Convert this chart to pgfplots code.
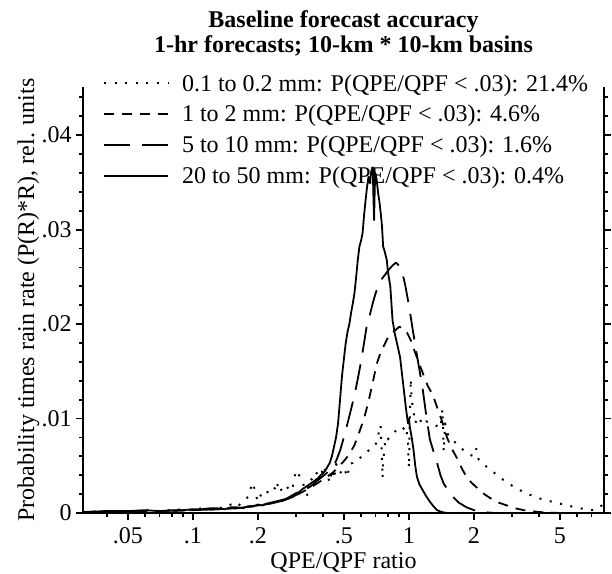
\documentclass[border=0pt]{standalone}
\usepackage{fontspec}
\setmainfont{Liberation Serif}
\usepackage{pgfplots}
\pgfplotsset{compat=1.18}
\usetikzlibrary{calc}

\begin{document}
\fontsize{12bp}{14.4bp}\selectfont
\begin{tikzpicture}
\begin{axis}[
  name=ax,
  scale only axis, width=260.5bp, height=213bp,
  xmode=log, xmin=0.031, xmax=8, ymin=0, ymax=0.0451,
  axis x line*=bottom, axis y line*=box,
  axis line style={-, line width=1bp},
  every tick/.style={black, line width=0.9bp},
  tick align=outside,
  major tick length=3.5bp, minor tick length=2bp,
  scaled y ticks=false,
  xtick={0.05,0.1,0.2,0.5,1,2,5},
  xticklabels={.05,.1,.2,.5,1,2,5},
  minor xtick={0.04,0.06,0.07,0.08,0.09,0.3,0.4,0.6,0.7,0.8,0.9,3,4,6,7},
  ytick={0,0.01,0.02,0.03,0.04},
  yticklabels={0,.01,.02,.03,.04},
  minor ytick={0.002,0.004,0.006,0.008,0.012,0.014,0.016,0.018,0.022,0.024,0.026,0.028,0.032,0.034,0.036,0.038,0.042,0.044},
  xticklabel style={anchor=north, inner sep=0pt, yshift=-3.5bp},
  yticklabel style={anchor=east, inner sep=0pt, xshift=-2bp},
  xlabel={QPE/QPF ratio},
  ylabel={Probability times rain rate (P(R)*R), rel. units},
  xlabel style={at={(axis description cs:0.5,-0.1291)}, anchor=base},
  ylabel style={at={(axis description cs:-0.094,0.5)}, anchor=base},
  clip mode=individual,
  legend style={at={(0.0384,1.0295)}, anchor=north west, draw=none, fill=none,
    inner sep=0pt, outer sep=0pt, row sep=5.3bp, column sep=6.5bp,
    nodes={inner sep=0pt}},
  legend cell align=left,
  legend image code/.code={\draw[#1] (0bp,0.6bp) -- (32bp,0.6bp);},
  every axis plot/.append style={black, line join=round},
]
% 0.1 to 0.2 mm
\addplot[line width=1bp, dash pattern=on 1bp off 4.3bp] coordinates {
(0.031,0.0001) (0.04,0.0002) (0.05,0.0001) (0.06,0.0003) (0.07,0.0002) (0.08,0.0003)
(0.09,0.0004) (0.1,0.0003) (0.11,0.0005) (0.12,0.0004) (0.13,0.0006) (0.14,0.0005)
(0.15,0.0009) (0.16,0.0006) (0.17,0.0012) (0.18,0.0017) (0.185,0.0026) (0.19,0.0032)
(0.195,0.0020) (0.2,0.0012) (0.21,0.0023) (0.22,0.0021) (0.23,0.0028) (0.24,0.0026)
(0.245,0.0033) (0.25,0.0022) (0.27,0.0030) (0.28,0.0023) (0.29,0.0028) (0.30,0.0045)
(0.31,0.0040) (0.32,0.0035) (0.33,0.0025) (0.34,0.0018) (0.35,0.0037) (0.36,0.0034)
(0.37,0.0040) (0.38,0.0045) (0.39,0.0035) (0.40,0.0050) (0.42,0.0040) (0.43,0.0032)
(0.44,0.0046) (0.45,0.0036) (0.46,0.0052) (0.48,0.0042) (0.50,0.0048) (0.52,0.0038)
(0.53,0.0052) (0.55,0.0053) (0.57,0.0057) (0.59,0.0058) (0.61,0.0060) (0.63,0.0064)
(0.65,0.0066) (0.67,0.0068) (0.69,0.0070) (0.71,0.0075) (0.73,0.0088) (0.74,0.0093)
(0.75,0.0060) (0.755,0.0037) (0.76,0.0055) (0.78,0.0080) (0.80,0.0078) (0.82,0.0083)
(0.85,0.0085) (0.88,0.0088) (0.91,0.0086) (0.94,0.0089) (0.97,0.0092) (0.99,0.0075)
(1.0,0.0048) (1.01,0.0100) (1.02,0.0142) (1.03,0.0120) (1.05,0.0108) (1.07,0.0095)
(1.10,0.0102) (1.13,0.0098) (1.16,0.0093) (1.20,0.0097) (1.25,0.0096) (1.30,0.0094)
(1.35,0.0092) (1.40,0.0090) (1.43,0.0110) (1.45,0.0065) (1.47,0.0095) (1.50,0.0085)
(1.55,0.0080) (1.60,0.0077) (1.70,0.0071) (1.80,0.0066) (1.90,0.0062) (2.0,0.0060)
(2.05,0.0068) (2.1,0.0057) (2.2,0.0052) (2.35,0.0047) (2.5,0.0042) (2.7,0.0036)
(2.9,0.0031) (3.1,0.0027) (3.4,0.0022) (3.75,0.0018) (4.2,0.0014) (4.8,0.0011)
(5.4,0.0008) (6.2,0.0005) (7.0,0.0003) (7.6,0.0005) (8,0.0011)
};
\addlegendentry{0.1 to 0.2 mm: P(QPE/QPF < .03): 21.4\%}
% 1 to 2 mm
\addplot[line width=0.9bp, dash pattern=on 5bp off 4bp] coordinates {
(0.031,0.0001) (0.05,0.0002) (0.07,0.0002) (0.1,0.0003) (0.13,0.0004) (0.16,0.0005)
(0.2,0.0008) (0.23,0.0010) (0.26,0.0013) (0.29,0.0017) (0.32,0.0022) (0.35,0.0027)
(0.38,0.0032) (0.41,0.0037) (0.44,0.0042) (0.47,0.0048) (0.50,0.0055) (0.53,0.0062)
(0.56,0.0072) (0.59,0.0086) (0.62,0.0100) (0.65,0.0118) (0.68,0.0138) (0.71,0.0158)
(0.74,0.0170) (0.77,0.0178) (0.80,0.0186) (0.83,0.0190) (0.86,0.0193) (0.90,0.0197)
(0.94,0.0196) (0.98,0.0191) (1.02,0.0183) (1.06,0.0172) (1.10,0.0162) (1.16,0.0148)
(1.22,0.0135) (1.29,0.0125) (1.35,0.0112) (1.42,0.0098) (1.50,0.0080) (1.58,0.0068)
(1.67,0.0058) (1.76,0.0047) (1.85,0.0038) (1.95,0.0032) (2.06,0.0027) (2.2,0.0021)
(2.37,0.0016) (2.6,0.0011) (2.84,0.0008) (3.1,0.0005) (3.4,0.0003) (3.7,0.0002)
(4.0,0.0001) (5,0.0) (8,0)
};
\addlegendentry{1 to 2 mm: P(QPE/QPF < .03): 4.6\%}
% 5 to 10 mm
\addplot[line width=0.9bp, dash pattern=on 13bp off 6bp] coordinates {
(0.031,0.0001) (0.05,0.0002) (0.07,0.0002) (0.1,0.0003) (0.13,0.0004) (0.16,0.0005)
(0.2,0.0008) (0.23,0.0010) (0.26,0.0013) (0.29,0.0017) (0.32,0.0023) (0.35,0.0028)
(0.38,0.0035) (0.41,0.0041) (0.44,0.0048) (0.46,0.0055) (0.48,0.0066) (0.50,0.0080)
(0.52,0.0095) (0.54,0.0110) (0.56,0.0125) (0.58,0.0142) (0.60,0.0160) (0.62,0.0180)
(0.64,0.0200) (0.66,0.0210) (0.68,0.0222) (0.70,0.0232) (0.72,0.0240) (0.75,0.0248)
(0.78,0.0253) (0.81,0.0258) (0.84,0.0262) (0.87,0.0265) (0.90,0.0262) (0.93,0.0255)
(0.96,0.0242) (1.00,0.0220) (1.04,0.0195) (1.08,0.0172) (1.12,0.0151) (1.16,0.0130)
(1.20,0.0105) (1.25,0.0078) (1.30,0.0065) (1.35,0.0053) (1.40,0.0040) (1.45,0.0031)
(1.52,0.0024) (1.60,0.0017) (1.70,0.0011) (1.85,0.0006) (2.0,0.0003) (2.2,0.0001)
(2.5,0.0) (8,0)
};
\addlegendentry{5 to 10 mm: P(QPE/QPF < .03): 1.6\%}
% 20 to 50 mm
\addplot[line width=0.9bp, solid] coordinates {
(0.031,0.0001) (0.04,0.0002) (0.05,0.0002) (0.06,0.0003) (0.07,0.0002) (0.08,0.0003)
(0.09,0.0003) (0.1,0.0004) (0.11,0.0004) (0.12,0.0005) (0.13,0.0005) (0.14,0.0004)
(0.15,0.0006) (0.16,0.0006) (0.17,0.0005) (0.18,0.0007) (0.19,0.0007) (0.2,0.0009)
(0.21,0.0008) (0.22,0.0010) (0.23,0.0011) (0.24,0.0012) (0.25,0.0013) (0.26,0.0014)
(0.27,0.0015) (0.28,0.0017) (0.29,0.0019) (0.30,0.0021) (0.31,0.0022) (0.32,0.0025)
(0.33,0.0027) (0.34,0.0029) (0.35,0.0031) (0.36,0.0033) (0.37,0.0035) (0.38,0.0037)
(0.39,0.0040) (0.40,0.0042) (0.41,0.0045) (0.42,0.0049) (0.43,0.0053) (0.44,0.0060)
(0.45,0.0070) (0.46,0.0080) (0.47,0.0095) (0.48,0.0120) (0.49,0.0145) (0.50,0.0163)
(0.51,0.0180) (0.52,0.0192) (0.53,0.0200) (0.54,0.0212) (0.55,0.0222) (0.56,0.0233)
(0.57,0.0250) (0.58,0.0268) (0.59,0.0282) (0.60,0.0288) (0.61,0.0296) (0.62,0.0315)
(0.63,0.0331) (0.64,0.0345) (0.65,0.0356) (0.66,0.0349) (0.67,0.0362) (0.68,0.0366)
(0.685,0.0335) (0.69,0.0310) (0.695,0.0345) (0.70,0.0360) (0.71,0.0352) (0.72,0.0339)
(0.73,0.0330) (0.74,0.0318) (0.75,0.0305) (0.76,0.0282) (0.77,0.0278) (0.79,0.0268)
(0.80,0.0255) (0.82,0.0240) (0.84,0.0204) (0.86,0.0190) (0.89,0.0175) (0.91,0.0165)
(0.94,0.0137) (0.97,0.0110) (0.99,0.0095) (1.00,0.0100) (1.01,0.0091) (1.03,0.0080)
(1.05,0.0067) (1.07,0.0050) (1.09,0.0038) (1.12,0.0030) (1.16,0.0024) (1.20,0.0018)
(1.25,0.0012) (1.30,0.0007) (1.35,0.0003) (1.42,0.0001) (1.5,0.0) (8,0)
};
\addlegendentry{20 to 50 mm: P(QPE/QPF < .03): 0.4\%}
\node[anchor=base, font=\bfseries] at (axis description cs:0.5,1.1408) {Baseline forecast accuracy};
\node[anchor=base, font=\bfseries] at (axis description cs:0.5,1.0798) {1-hr forecasts; 10-km * 10-km basins};
\end{axis}
\pgfresetboundingbox
\path[use as bounding box] ($(ax.south west)+(-41.5bp,-30.5bp)$) rectangle ($(ax.north east)+(4bp,43.5bp)$);
\end{tikzpicture}
\end{document}
